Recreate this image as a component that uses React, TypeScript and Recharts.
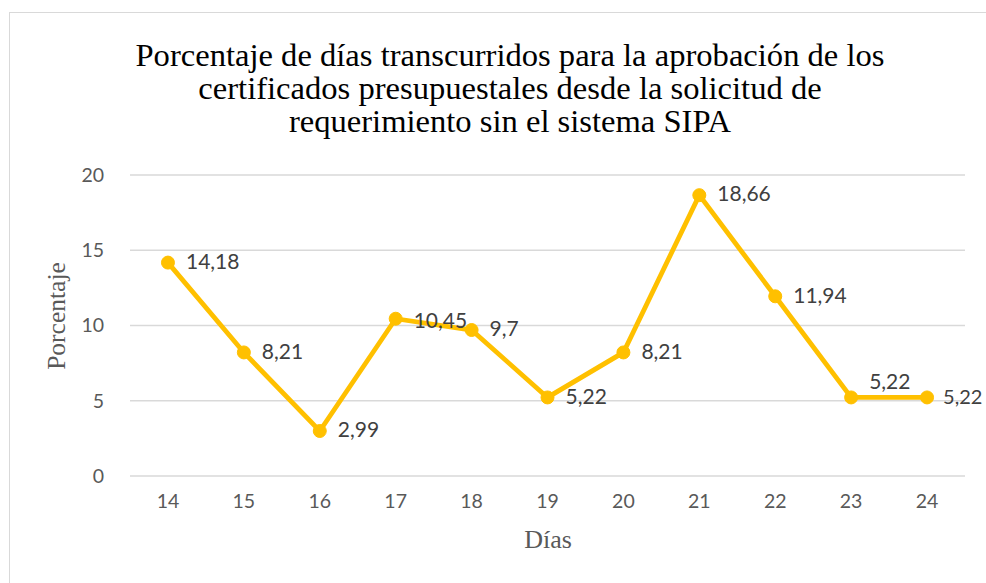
import { CartesianGrid, LabelList, Line, LineChart, XAxis, YAxis } from "recharts";

const days = [14, 15, 16, 17, 18, 19, 20, 21, 22, 23, 24];
const percentages = [14.18, 8.21, 2.99, 10.45, 9.7, 5.22, 8.21, 18.66, 11.94, 5.22, 5.22];
const yTicks = [0, 5, 10, 15, 20];

const chartData = days.map((day, i) => ({ day, value: percentages[i] }));

const tickFont = { fontSize: 19.5, fill: "#595959", fontFamily: "Lato, 'Open Sans', sans-serif" };
const serif = "'Liberation Serif'";

// Excel nudges a couple of labels to avoid overlap
const PointLabel = (props: any) => {
  const { x, y, value, index } = props;
  const dy = index === 9 ? -14 : index === 3 ? 4 : 1;
  const dx = index === 10 ? 16 : 18;
  return (
    <text x={x + dx} y={y + dy} dominantBaseline="middle" fontSize={index === 10 ? 20 : 21} fontFamily={tickFont.fontFamily} fill="#404040">
      {String(value).replace(".", ",")}
    </text>
  );
};

const App = () => {
  return (
    <div style={{ position: "fixed", left: 0, top: 0, width: 986, height: 583, overflow: "hidden", background: "#fff" }}>
      <div style={{ position: "absolute", left: 9, top: 12, width: 1000, height: 600, border: "1px solid #d9d9d9" }} />
      <div
        style={{
          position: "absolute",
          left: 0,
          width: 1020,
          top: 39,
          textAlign: "center",
          fontFamily: serif,
          fontSize: 32.6,
          lineHeight: "33px",
          color: "#000",
        }}
      >
        Porcentaje de días transcurridos para la aprobación de los
        <br />
        certificados presupuestales desde la solicitud de
        <br />
        requerimiento sin el sistema SIPA
      </div>
      <div style={{ position: "absolute", left: 0, top: 0 }}>
        <LineChart width={986} height={583} data={chartData} margin={{ top: 175, right: 21, bottom: 0, left: 0 }}>
          <CartesianGrid vertical={false} stroke="#d9d9d9" strokeWidth={1.3} />
          <XAxis
            dataKey="day"
            type="number"
            domain={[13.5, 24.5]}
            ticks={days}
            axisLine={false}
            tickLine={false}
            tickMargin={12}
            tick={tickFont}
            height={107}
          />
          <YAxis
            domain={[0, 20]}
            ticks={yTicks}
            axisLine={false}
            tickLine={false}
            tickMargin={20}
            tick={tickFont}
            width={130}
          />
          <Line
            dataKey="value"
            stroke="#FFC000"
            strokeWidth={4.8}
            dot={{ r: 6.5, fill: "#FFC000", stroke: "#FFC000", strokeWidth: 1 }}
            isAnimationActive={false}
          >
            <LabelList dataKey="value" content={PointLabel} />
          </Line>
        </LineChart>
      </div>
      <div
        style={{
          position: "absolute",
          left: 57,
          top: 316,
          transform: "translate(-50%, -50%) rotate(-90deg)",
          fontFamily: serif,
          fontSize: 25.5,
          color: "#595959",
          whiteSpace: "nowrap",
        }}
      >
        Porcentaje
      </div>
      <div
        style={{
          position: "absolute",
          left: 548,
          top: 540,
          transform: "translate(-50%, -50%)",
          fontFamily: serif,
          fontSize: 26,
          color: "#595959",
        }}
      >
        Días
      </div>
    </div>
  );
};

export default App;
